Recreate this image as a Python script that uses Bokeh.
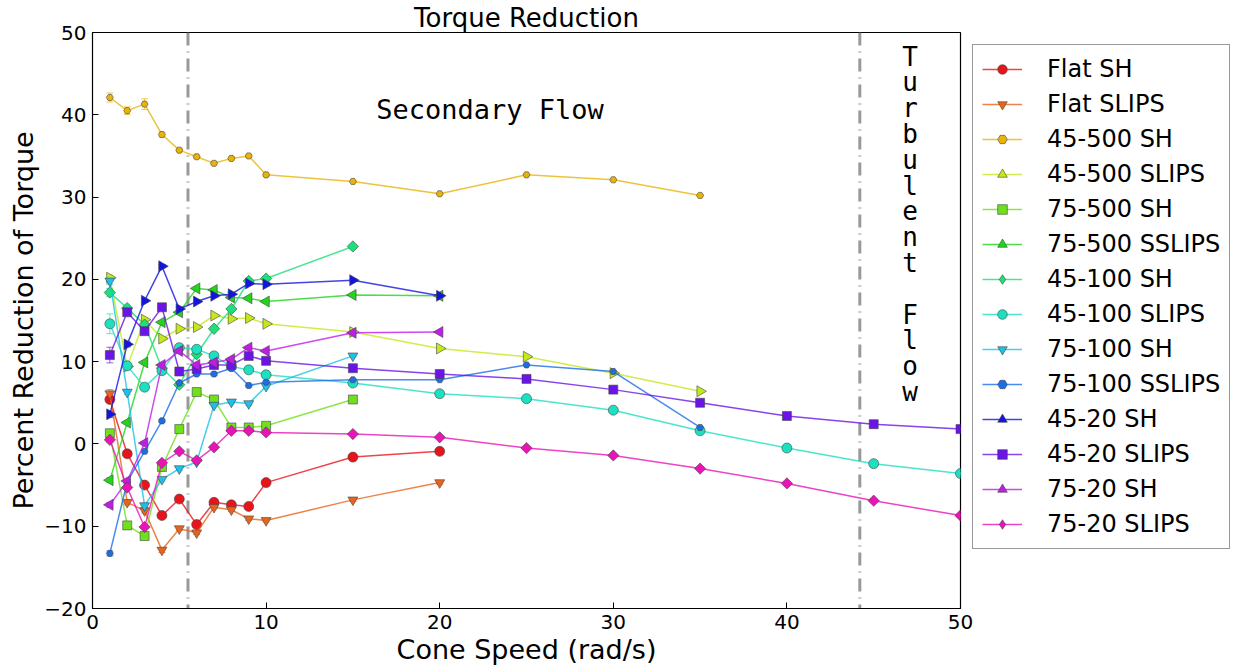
import math
from bokeh.plotting import figure
from bokeh.models import (ColumnDataSource, Whisker, TeeHead, Span, Legend, LegendItem,
                          FixedTicker)
from bokeh.core.properties import value
from bokeh.embed import file_html
from bokeh.resources import INLINE

# ---------------- data ----------------
SPEEDS_15 = [1, 2, 3, 4, 5, 6, 7, 8, 9, 10, 15]
SPEEDS_20 = [1, 2, 3, 4, 5, 6, 7, 8, 9, 10, 15, 20]
SPEEDS_35 = [1, 2, 3, 4, 5, 6, 7, 8, 9, 10, 15, 20, 25, 30, 35]
SPEEDS_50 = [1, 2, 3, 4, 5, 6, 7, 8, 9, 10, 15, 20, 25, 30, 35, 40, 45, 50]

series_names = ["Flat SH", "Flat SLIPS", "45-500 SH", "45-500 SLIPS", "75-500 SH",
                "75-500 SSLIPS", "45-100 SH", "45-100 SLIPS", "75-100 SH",
                "75-100 SSLIPS", "45-20 SH", "45-20 SLIPS", "75-20 SH", "75-20 SLIPS"]

flat_sh = [5.4, -1.2, -5.0, -8.7, -6.7, -9.8, -7.1, -7.4, -7.6, -4.7, -1.6, -0.9]
flat_slips = [6.1, -7.1, -8.1, -12.9, -10.3, -10.8, -7.7, -8.0, -9.1, -9.3, -6.8, -4.7]
s45_500_sh = [42.1, 40.5, 41.3, 37.6, 35.7, 34.9, 34.1, 34.7, 35.0, 32.7, 31.9, 30.4, 32.7, 32.1, 30.2]
s45_500_slips = [20.2, 9.4, 15.1, 12.8, 14.0, 14.2, 15.6, 15.2, 15.3, 14.6, 13.6, 11.6, 10.6, 8.6, 6.4]
s75_500_sh = [1.3, -9.9, -11.2, -2.8, 1.8, 6.3, 5.4, 2.0, 2.0, 2.2, 5.4]
s75_500_sslips = [-4.4, 2.6, 9.9, 14.8, 16.0, 18.9, 18.7, 17.8, 17.7, 17.3, 18.1, 18.0]
s45_100_sh = [18.4, 16.5, 14.5, 9.2, 7.2, 10.9, 14.0, 16.4, 19.8, 20.1, 24.0]
s45_100_slips = [14.6, 9.5, 6.9, 8.9, 11.7, 11.5, 10.7, 9.4, 9.0, 8.4, 7.4, 6.1, 5.5, 4.1, 1.6, -0.5, -2.4, -3.6]
s75_100_sh = [19.8, 6.3, -7.5, -4.3, -3.0, -2.2, 4.7, 5.1, 4.9, 7.0, 10.7]
s75_100_sslips = [-13.3, -4.6, -0.9, 2.8, 7.4, 8.5, 8.5, 9.2, 7.1, 7.5, 7.8, 7.8, 9.6, 8.8, 2.0]
s45_20_sh = [3.6, 12.1, 17.4, 21.6, 16.4, 17.3, 18.0, 18.2, 19.5, 19.4, 19.9, 18.0]
s45_20_slips = [10.8, 16.0, 13.7, 16.6, 8.8, 9.1, 9.6, 9.6, 10.7, 10.1, 9.2, 8.5, 7.9, 6.6, 5.0, 3.4, 2.4, 1.8]
s75_20_sh = [-7.4, -4.5, 0.1, 9.6, 11.3, 9.6, 9.9, 10.3, 11.7, 11.3, 13.5, 13.6]
s75_20_slips = [0.5, -5.3, -10.1, -2.3, -0.9, -2.0, -0.4, 1.6, 1.6, 1.4, 1.2, 0.8, -0.5, -1.4, -3.0, -4.8, -6.9, -8.7]

# error bars (half-widths)
flat_sh_err = [0.4, 0.2, 0.2, 0.3, 0.2, 0.2, 0.2, 0.2, 0.2, 0.2, 0.2, 0.2]
flat_slips_err = [0.5, 0.3, 0.3, 0.3, 0.2, 0.2, 0.2, 0.2, 0.2, 0.2, 0.2, 0.2]
s45_500_sh_err = [0.55, 0.45, 0.65, 0.3, 0.2, 0.2, 0.2, 0.2, 0.2, 0.2, 0.1, 0.1, 0.1, 0.1, 0.1]
s45_500_slips_err = [0.35, 0.2, 0.2, 0.2, 0.2, 0.2, 0.2, 0.2, 0.2, 0.2, 0.1, 0.1, 0.1, 0.1, 0.1]
s75_500_sh_err = [0.3, 0.2, 0.2, 0.2, 0.2, 0.2, 0.2, 0.2, 0.2, 0.2, 0.1]
s75_500_sslips_err = [0.3, 0.2, 0.2, 0.2, 0.2, 0.2, 0.2, 0.2, 0.2, 0.2, 0.1, 0.1]
s45_100_sh_err = [0.5, 0.3, 0.2, 0.2, 0.2, 0.2, 0.2, 0.2, 0.2, 0.2, 0.1]
s45_100_slips_err = [1.2, 0.3, 0.2, 0.2, 0.2, 0.2, 0.2, 0.2, 0.2, 0.2, 0.1, 0.1, 0.1, 0.1, 0.1, 0.1, 0.1, 0.1]
s75_100_sh_err = [0.4, 0.3, 0.2, 0.2, 0.2, 0.2, 0.2, 0.2, 0.2, 0.2, 0.1]
s75_100_sslips_err = [0.3, 0.2, 0.2, 0.2, 0.2, 0.2, 0.2, 0.2, 0.2, 0.2, 0.1, 0.1, 0.1, 0.1, 0.1]
s45_20_sh_err = [0.4, 0.3, 0.2, 0.2, 0.2, 0.2, 0.2, 0.2, 0.2, 0.2, 0.1, 0.1]
s45_20_slips_err = [0.95, 0.3, 0.2, 0.2, 0.2, 0.2, 0.2, 0.2, 0.2, 0.2, 0.1, 0.1, 0.1, 0.1, 0.1, 0.1, 0.1, 0.1]
s75_20_sh_err = [0.3, 0.2, 0.2, 0.2, 0.2, 0.2, 0.2, 0.2, 0.2, 0.2, 0.1, 0.1]
s75_20_slips_err = [0.3, 0.2, 0.2, 0.2, 0.2, 0.2, 0.2, 0.2, 0.2, 0.2, 0.1, 0.1, 0.1, 0.1, 0.1, 0.1, 0.1, 0.1]

series_x = [SPEEDS_20, SPEEDS_20, SPEEDS_35, SPEEDS_35, SPEEDS_15, SPEEDS_20, SPEEDS_15,
            SPEEDS_50, SPEEDS_15, SPEEDS_35, SPEEDS_20, SPEEDS_50, SPEEDS_20, SPEEDS_50]
series_y = [flat_sh, flat_slips, s45_500_sh, s45_500_slips, s75_500_sh, s75_500_sslips,
            s45_100_sh, s45_100_slips, s75_100_sh, s75_100_sslips, s45_20_sh, s45_20_slips,
            s75_20_sh, s75_20_slips]
series_err = [flat_sh_err, flat_slips_err, s45_500_sh_err, s45_500_slips_err, s75_500_sh_err,
              s75_500_sslips_err, s45_100_sh_err, s45_100_slips_err, s75_100_sh_err,
              s75_100_sslips_err, s45_20_sh_err, s45_20_slips_err, s75_20_sh_err, s75_20_slips_err]

regime_bounds = [5.5, 44.2]
x_ticks = [0, 10, 20, 30, 40, 50]
y_ticks = [-20, -10, 0, 10, 20, 30, 40, 50]

# ---------------- style ----------------
colors = ["#e8141c", "#e8641c", "#e8b40a", "#c4e81c", "#6ee01c", "#22d41c", "#1ce07a",
          "#1ce0c0", "#1cc0e8", "#1c6ee8", "#1414e0", "#6a14e8", "#c01ce8", "#e814b8"]
# (marker in plot, size, angle, marker in legend)
markers = [("circle", 10, 0, "circle"), ("inverted_triangle", 10, 0, "inverted_triangle"),
           ("hex", 7, 0, "hex"), ("triangle", 11, -math.pi / 2, "triangle"),
           ("square", 9, 0, "square"), ("triangle", 11, math.pi / 2, "triangle"),
           ("square", 8, math.pi / 4, "diamond"), ("circle", 10, 0, "circle"),
           ("inverted_triangle", 10, 0, "inverted_triangle"), ("hex", 7, 0, "hex"),
           ("triangle", 11, -math.pi / 2, "triangle"), ("square", 9, 0, "square"),
           ("triangle", 11, math.pi / 2, "triangle"), ("square", 8, math.pi / 4, "diamond")]

FONT = "DejaVu Sans"
MONO = "DejaVu Sans Mono"
NAN = float("nan")

p = figure(frame_width=868, frame_height=576, output_backend="svg", toolbar_location=None,
           x_range=(0, 50), y_range=(-20, 50),
           min_border_left=92, min_border_right=0, min_border_top=30, min_border_bottom=61)
p.background_fill_color = "white"
p.border_fill_color = "white"
p.xgrid.visible = False
p.ygrid.visible = False
p.outline_line_color = "black"
p.outline_line_width = 1.2

p.title.text = "Torque Reduction"
p.title.align = "center"
p.title.text_font = FONT
p.title.text_font_size = "26px"
p.title.text_font_style = "normal"
p.title.text_color = "black"
p.title.standoff = 0
p.title.offset = 0

for ax, ticks in ((p.xaxis[0], x_ticks), (p.yaxis[0], y_ticks)):
    ax.ticker = FixedTicker(ticks=ticks)
    ax.major_tick_in = 6
    ax.major_tick_out = 0
    ax.minor_tick_line_color = None
    ax.major_label_text_font = FONT
    ax.major_label_text_font_size = "20px"
    ax.major_label_text_color = "black"
    ax.axis_label_text_font = FONT
    ax.axis_label_text_font_size = "27px"
    ax.axis_label_text_font_style = "normal"
    ax.axis_label_text_color = "black"
    ax.axis_line_color = "black"
    ax.major_label_standoff = 6
    ax.axis_label_standoff = 2
p.yaxis.major_label_overrides = {t: ("\u2212" + str(abs(t)) if t < 0 else str(t)) for t in y_ticks}
p.xaxis.axis_label = "Cone Speed (rad/s)"
p.yaxis.axis_label = "Percent Reduction of Torque"

for loc in regime_bounds:
    p.add_layout(Span(location=loc, dimension="height", line_color="#999999",
                      line_width=3, line_dash="13 6 1 6", level="underlay"))

items = []
for name, xs, ys, es, col, (mk, sz, ang, lmk) in zip(series_names, series_x, series_y, series_err, colors, markers):
    src = ColumnDataSource(dict(x=xs, y=ys, lo=[a - b for a, b in zip(ys, es)],
                                hi=[a + b for a, b in zip(ys, es)]))
    wh = Whisker(source=src, base="x", upper="hi", lower="lo", line_color=col, line_alpha=0.7,
                 line_width=1,
                 upper_head=TeeHead(size=7, line_color=col, line_alpha=0.7),
                 lower_head=TeeHead(size=7, line_color=col, line_alpha=0.7))
    p.add_layout(wh)
    ln = p.line("x", "y", source=src, line_color=col, line_width=1.5, line_alpha=0.8)
    sc = p.scatter("x", "y", source=src, marker=mk, size=sz, angle=ang,
                   fill_color=col, line_color="#444444", line_width=0.6)
    if lmk != mk or ang != 0:
        # legend-only glyph with a single undefined (NaN) point: nothing drawn in the plot
        dummy = p.scatter(x=[NAN], y=[NAN], marker=lmk, size=sz, angle=ang,
                          fill_color=col, line_color="#444444", line_width=0.6)
        items.append(LegendItem(label=name, renderers=[ln, dummy]))
    else:
        items.append(LegendItem(label=name, renderers=[ln, sc]))

p.text(x=[22.9], y=[40.6], text=["Secondary Flow"], text_font=value(MONO),
       text_font_size="27px", text_align="center", text_baseline="middle", text_color="black")
p.text(x=[47.1], y=[48.9], text=["T\nu\nr\nb\nu\nl\ne\nn\nt\n\nF\nl\no\nw"], text_font=value(MONO),
       text_font_size="26px", text_align="center", text_baseline="top", text_color="black",
       text_line_height=0.86)

legend = Legend(items=items, location="top_left", margin=12, padding=9, spacing=5,
                glyph_width=40, glyph_height=24, label_height=30, label_standoff=25,
                label_text_font=FONT, label_text_font_size="24px", label_text_color="black",
                border_line_color="#333333", border_line_width=1,
                background_fill_color="white")
p.add_layout(legend, "right")

open("out.html", "w").write(file_html(p, INLINE))
